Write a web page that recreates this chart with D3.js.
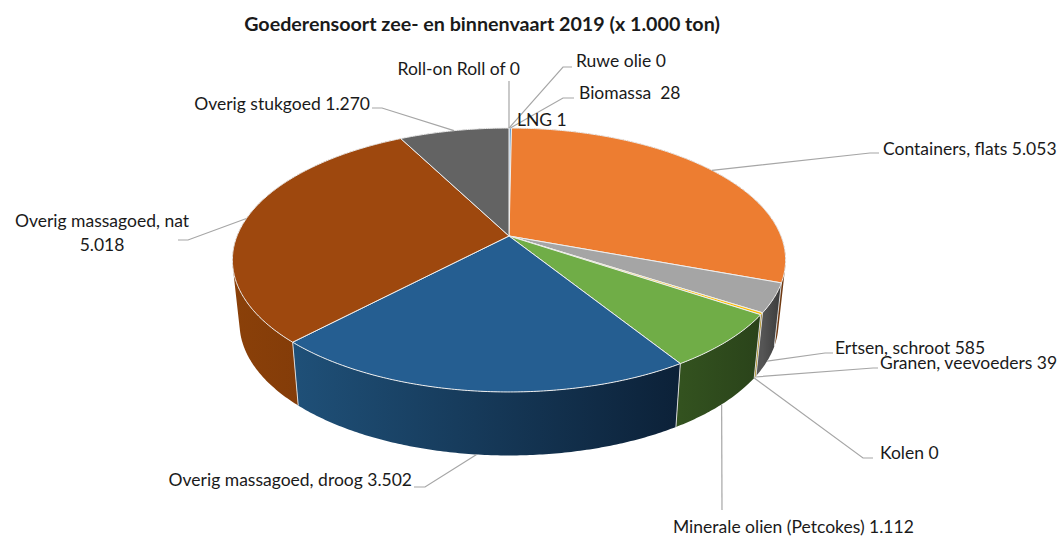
<!DOCTYPE html>
<meta charset="utf-8">
<script src="https://d3js.org/d3.v7.min.js"></script>
<style>
body { margin: 0; background: #fff; }
text { font-family: Lato, "Open Sans", sans-serif; fill: #1a1a1a; white-space: pre; }
</style>
<body>
<div id="canvas"></div>
<script>
var title = "Goederensoort zee- en binnenvaart 2019 (x 1.000 ton)";

// clockwise from the top, same order as the sheet
var categories = ["Ruwe olie", "LNG", "Biomassa ", "Containers, flats", "Ertsen, schroot", "Granen, veevoeders", "Kolen",
    "Minerale olien (Petcokes)", "Overig massagoed, droog", "Overig massagoed, nat", "Overig stukgoed", "Roll-on Roll of"];
var values = [0, 1, 28, 5053, 585, 39, 0, 1112, 3502, 5018, 1270, 0];
var valueLabels = ["0", "1", "28", "5.053", "585", "39", "0", "1.112", "3.502", "5.018", "1.270", "0"];

var topColors = ["#4472c4", "#264478", "#5b9bd5", "#ed7d31", "#a5a5a5", "#ffc000", "#4472c4", "#70ad47", "#255e91", "#9e480e", "#636363", "#997300"];
var wallLeft = ["#223", "#223", "#345", "#a85820", "#555555", "#b08500", "#223", "#33521f", "#1f5078", "#8a4009", "#444444", "#665"];
var wallRight = ["#112", "#112", "#234", "#6e3810", "#3a3a3a", "#806000", "#112", "#2a431a", "#0c2138", "#7a3608", "#333333", "#554"];

var width = 1062, height = 537;

// tilted plate: circle seen in perspective, far edge smaller than near edge
var persp = 0.1818;
var topFace = {cx: 509, cy: 236, rx: 272, ry: 127.6};
var bottomFace = {cx: 509, cy: 299, rx: 265, ry: 128};

function project(face, a) {
    var d = Math.cos(a), s = Math.sin(a), w = 1 + persp * d;
    return [face.cx + face.rx * s / w, face.cy - face.ry * d / w];
}
function arcPoints(face, a0, a1) {
    var n = Math.max(2, Math.ceil((a1 - a0) / 0.01)), pts = [];
    for (var i = 0; i <= n; i++) pts.push(project(face, a0 + (a1 - a0) * i / n));
    return pts;
}

var svg = d3.select("#canvas").append("svg")
    .attr("width", width)
    .attr("height", height)
    .attr("viewBox", "0 0 " + width + " " + height)
    .style("display", "block");

var line = d3.line();
var allSlices = d3.pie().sort(null).value(function(d) { return d; })(values);
var slices = allSlices.filter(function(d) { return d.value > 0; });

// wall as a strip of small quads, all wound the same way so they fill as one
function wallPath(d) {
    var up = arcPoints(topFace, d.startAngle, d.endAngle);
    var down = arcPoints(bottomFace, d.startAngle, d.endAngle);
    var out = "";
    for (var i = 0; i < up.length - 1; i++) {
        var quad = [up[i], up[i + 1], down[i + 1], down[i]];
        if (d3.polygonArea(quad) < 0) quad.reverse();
        out += line(quad) + "Z";
    }
    return out;
}

// gradients of the side walls
var defs = svg.append("defs");
slices.forEach(function(d) {
    var pts = arcPoints(topFace, d.startAngle, d.endAngle);
    var xs = d3.extent(pts, function(p) { return p[0]; });
    var g = defs.append("linearGradient")
        .attr("id", "wall" + d.index)
        .attr("gradientUnits", "userSpaceOnUse")
        .attr("x1", xs[0]).attr("x2", xs[1]).attr("y1", 0).attr("y2", 0);
    g.append("stop").attr("offset", 0).attr("stop-color", wallLeft[d.index]);
    g.append("stop").attr("offset", 1).attr("stop-color", wallRight[d.index]);
});

// side walls first, the top faces hide whatever is behind
svg.append("g").selectAll("path")
    .data(slices)
    .enter()
    .append("path")
    .attr("d", wallPath)
    .attr("fill", function(d) { return "url(#wall" + d.index + ")"; });

// white seams between front walls
svg.append("g").selectAll("line")
    .data(slices.filter(function(d) { return Math.cos(d.endAngle) < 0.1; }))
    .enter()
    .append("line")
    .attr("x1", function(d) { return project(topFace, d.endAngle)[0]; })
    .attr("y1", function(d) { return project(topFace, d.endAngle)[1]; })
    .attr("x2", function(d) { return project(bottomFace, d.endAngle)[0]; })
    .attr("y2", function(d) { return project(bottomFace, d.endAngle)[1]; })
    .attr("stroke", "#d9d9d9")
    .attr("stroke-width", 1);

svg.append("g").selectAll("path")
    .data(slices)
    .enter()
    .append("path")
    .attr("d", function(d) {
        return line([[topFace.cx, topFace.cy]].concat(arcPoints(topFace, d.startAngle, d.endAngle))) + "Z";
    })
    .attr("fill", function(d) { return topColors[d.index]; })
    .attr("stroke", "#eeeeee")
    .attr("stroke-width", 1)
    .attr("stroke-linejoin", "round");

// label placing, by category index. face = where the leader leaves the plate
var labelLayout = [
    {i: 0, face: "top", bend: [[563, 67], [572, 67]], x: 576, y: 67, anchor: "start"},
    {i: 1, x: 517, y: 126, anchor: "start"},
    {i: 2, face: "top", bend: [[563, 98], [574, 98]], x: 579, y: 99, anchor: "start"},
    {i: 3, face: "top", bend: [[870, 153], [879, 153]], x: 883, y: 155, anchor: "start"},
    {i: 4, face: "bottom", bend: [[825, 353], [833, 353]], x: 835, y: 354, anchor: "start"},
    {i: 5, face: "bottom", bend: [[873, 368], [878, 368]], x: 880, y: 369, anchor: "start"},
    {i: 6, face: "bottom", bend: [[863, 458], [873, 458]], x: 880, y: 459, anchor: "start"},
    {i: 7, face: "bottom", bend: [[722, 510]], x: 673, y: 533, anchor: "start"},
    {i: 8, face: "bottom", bend: [[425, 487], [414, 487]], x: 412, y: 486, anchor: "end"},
    {i: 9, face: "top", bend: [[188, 240], [178, 240]], x: 102, y: 227, anchor: "middle", wrap: true},
    {i: 10, face: "top", bend: [[382, 108], [372, 108]], x: 370, y: 110, anchor: "end"},
    {i: 11, face: "top", bend: [[509, 81]], x: 520, y: 75, anchor: "end"}
];

svg.append("g").selectAll("path")
    .data(labelLayout.filter(function(d) { return d.bend; }))
    .enter()
    .append("path")
    .attr("d", function(d) {
        var s = allSlices[d.i];
        var start = project(d.face == "top" ? topFace : bottomFace, (s.startAngle + s.endAngle) / 2);
        return line([start].concat(d.bend));
    })
    .attr("fill", "none")
    .attr("stroke", "#a6a6a6")
    .attr("stroke-width", 1.2);

var labels = svg.append("g").selectAll("text")
    .data(labelLayout)
    .enter()
    .append("text")
    .attr("x", function(d) { return d.x; })
    .attr("y", function(d) { return d.y; })
    .attr("text-anchor", function(d) { return d.anchor; })
    .style("font-size", "17.5px");

labels.each(function(d) {
    var t = d3.select(this);
    if (d.wrap) {
        t.append("tspan").attr("x", d.x).text(categories[d.i]);
        t.append("tspan").attr("x", d.x).attr("dy", 24).text(valueLabels[d.i]);
    } else {
        t.text(categories[d.i] + " " + valueLabels[d.i]);
    }
});

svg.append("text")
    .attr("x", 482)
    .attr("y", 31)
    .attr("text-anchor", "middle")
    .style("font-size", "19.7px")
    .style("font-weight", "700")
    .text(title);
</script>
</body>
